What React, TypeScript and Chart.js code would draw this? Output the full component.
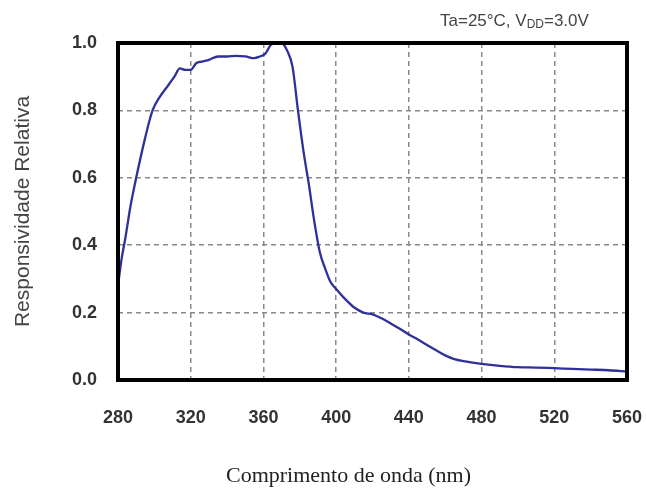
import React, { useEffect, useRef } from "react";
import { Chart, registerables } from "chart.js";

Chart.register(...registerables);

const wavelengths = [280, 282, 284, 287, 290, 295, 299, 303, 307, 311, 314, 317, 320, 323, 326, 330, 335, 340, 345, 350, 355, 358, 361, 364, 367, 370, 373, 376, 379, 382, 385, 388, 391, 394, 397, 400, 405, 410, 415, 420, 425, 430, 435, 440, 445, 450, 455, 460, 465, 470, 480, 490, 500, 510, 520, 530, 540, 550, 560];
const responsivity = [0.28, 0.36, 0.42, 0.52, 0.6, 0.72, 0.8, 0.84, 0.87, 0.9, 0.925, 0.92, 0.92, 0.94, 0.945, 0.95, 0.96, 0.96, 0.962, 0.96, 0.955, 0.96, 0.968, 0.994, 1.0, 1.0, 0.978, 0.93, 0.8, 0.68, 0.58, 0.47, 0.38, 0.33, 0.29, 0.27, 0.24, 0.215, 0.2, 0.195, 0.183, 0.168, 0.152, 0.135, 0.12, 0.104, 0.088, 0.073, 0.062, 0.056, 0.048, 0.042, 0.038, 0.037, 0.035, 0.033, 0.031, 0.029, 0.025];

const xTitle = "Comprimento de onda (nm)";
const yTitle = "Responsividade Relativa";
const noteMain = "Ta=25°C, V";
const noteSub = "DD";
const noteEnd = "=3.0V";

const SANS = "'Liberation Sans', Arial, sans-serif";

export default function App() {
  const ref = useRef<HTMLCanvasElement | null>(null);

  useEffect(() => {
    if (!ref.current) return;
    const framePlugin = {
      id: "frame",
      afterDraw(chart: any) {
        const { ctx, chartArea } = chart;
        ctx.save();
        ctx.strokeStyle = "#000";
        ctx.lineWidth = 4;
        ctx.strokeRect(chartArea.left, chartArea.top, chartArea.right - chartArea.left, chartArea.bottom - chartArea.top);
        // x title
        ctx.fillStyle = "#222";
        ctx.font = "22px 'Liberation Serif', serif";
        ctx.textAlign = "center";
        ctx.textBaseline = "middle";
        ctx.fillText(xTitle, (chartArea.left + chartArea.right) / 2 - 24, 476);
        // note
        ctx.fillStyle = "#444";
        ctx.textAlign = "left";
        ctx.font = "17px " + SANS;
        let x = 440;
        const y = 21;
        ctx.fillText(noteMain, x, y);
        x += ctx.measureText(noteMain).width;
        ctx.font = "12px " + SANS;
        ctx.fillText(noteSub, x, y + 4);
        x += ctx.measureText(noteSub).width;
        ctx.font = "17px " + SANS;
        ctx.fillText(noteEnd, x, y);
        ctx.restore();
      },
    };

    const chart = new Chart(ref.current, {
      type: "line",
      data: {
        datasets: [
          {
            data: wavelengths.map((w, i) => ({ x: w, y: responsivity[i] })),
            borderColor: "#30309a",
            borderWidth: 2.3,
            pointRadius: 0,
            cubicInterpolationMode: "monotone",
            fill: false,
          },
        ],
      },
      options: {
        animation: false,
        responsive: false,
        maintainAspectRatio: false,
        layout: { padding: { top: 43, right: 19, left: 0, bottom: 0 } },
        plugins: { legend: { display: false }, tooltip: { enabled: false } },
        scales: {
          x: {
            type: "linear",
            min: 280,
            max: 560,
            afterFit(scale: any) {
              scale.height = 110;
              scale.paddingLeft = 0;
              scale.paddingRight = 0;
            },
            ticks: {
              stepSize: 40,
              padding: 27,
              color: "#333",
              font: { family: SANS, size: 18, weight: "bold" },
              maxRotation: 0,
            },
            grid: {
              drawTicks: false,
              color: "#8a8a8a",
              lineWidth: 1.5,
            },
            border: { display: false, dash: [5, 4] },
          },
          y: {
            min: 0,
            max: 1,
            afterFit(scale: any) {
              scale.width = 118;
              scale.paddingTop = 0;
              scale.paddingBottom = 0;
            },
            ticks: {
              stepSize: 0.2,
              padding: 21,
              color: "#333",
              font: { family: SANS, size: 18, weight: "bold" },
              callback: (v: any) => Number(v).toFixed(1),
            },
            grid: {
              drawTicks: false,
              color: "#8a8a8a",
              lineWidth: 1.5,
            },
            border: { display: false, dash: [5, 4] },
            title: {
              display: true,
              text: yTitle,
              color: "#444",
              font: { family: SANS, size: 21 },
              padding: { top: 11, bottom: 0 },
            },
          },
        },
      },
      plugins: [framePlugin],
    } as any);
    return () => chart.destroy();
  }, []);

  return (
    <div style={{ position: "fixed", left: 0, top: 0, width: 646, height: 490, background: "#fff" }}>
      <canvas ref={ref} width={646} height={490} style={{ width: 646, height: 490, display: "block" }} />
    </div>
  );
}
